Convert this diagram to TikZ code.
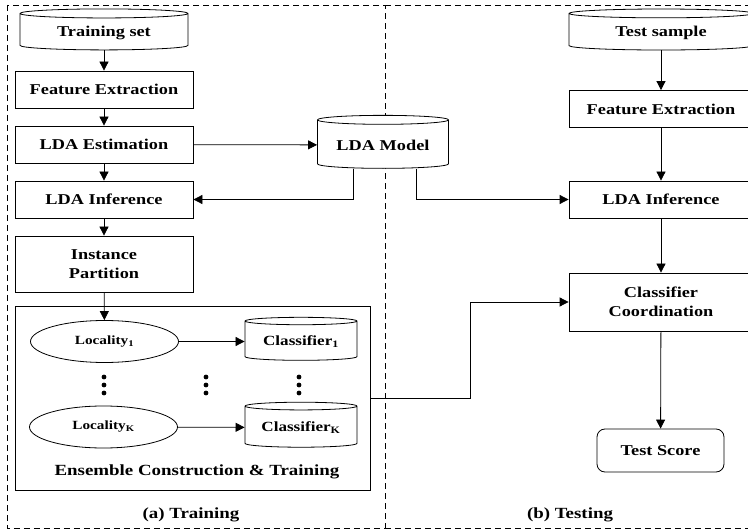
\documentclass[tikz,border=0pt]{standalone}
\usepackage{fontspec}
\setmainfont{Liberation Serif}[FakeStretch=1.22]
\usetikzlibrary{positioning,arrows.meta,shapes.geometric}
\tikzset{
    process box/.style={
        draw,thick,fill=white,
        minimum width=178pt,minimum height=37pt,
        align=center,font=\bfseries\fontsize{15}{19}\selectfont
    },
    data store/.style={
        draw,thick,fill=white,cylinder,shape border rotate=90,aspect=0.09,
        align=center,font=\bfseries\fontsize{15}{19}\selectfont
    },
    locality/.style={
        draw,thick,ellipse,
        minimum width=148pt,minimum height=42pt,
        font=\bfseries\fontsize{12.5}{15}\selectfont
    },
    caption/.style={font=\bfseries\fontsize{15.5}{19}\selectfont},
    >={Triangle[length=9pt,width=9pt]},
}
\tikzstyle{arrow} = [thick,->]
\tikzstyle{frame} = [thick,dashed,dash pattern=on 6pt off 4pt]

\begin{document}
\begin{tikzpicture}[x=1pt,y=-1pt]
		\useasboundingbox (0,0) rectangle (748,532);
		% the two dashed panels
		\draw[frame] (7,5) rectangle (385,528);
		\draw[frame] (385,5) -- (752,5);
		\draw[frame] (385,528) -- (752,528);
		\node[caption] (trainlbl) at (191,515) {(a) Training};
		\node[caption] (testlbl) at (570,515) {(b) Testing};

		% training side
		\node[data store,minimum width=168pt,minimum height=41pt] (trainset) at (104,32.5) {Training set};
		\node[process box] (featL) at (104,89.5) {Feature Extraction};
		\node[process box] (estL) at (104,144.5) {LDA Estimation};
		\node[process box] (infL) at (104,199.5) {LDA Inference};
		\node[process box,minimum height=56pt] (part) at (104,264) {Instance\\Partition};
		\node[data store,minimum width=131pt,minimum height=53pt] (model) at (383,145) {LDA Model};

		\node[draw,thick,minimum width=355pt,minimum height=184pt] (ens) at (192.5,398) {};
		\node[caption] (enslbl) at (197,472) {Ensemble Construction \& Training};
		\node[locality] (loc1) at (104.5,341.5) {Locality\textsubscript{1}};
		\node[locality] (locK) at (103.5,427) {Locality\textsubscript{K}};
		\node[data store,minimum width=112pt,minimum height=43pt,font=\bfseries\fontsize{14}{17}\selectfont] (cls1) at (301,341.5) {Classifier\textsubscript{1}};
		\node[data store,minimum width=112pt,minimum height=45pt,font=\bfseries\fontsize{14}{17}\selectfont] (clsK) at (301,427.5) {Classifier\textsubscript{K}};
		\foreach \x in {104,206,299}
		\foreach \y in {377,385,393}
		\fill (\x,\y) circle (2.4pt);

		% testing side
		\node[data store,minimum width=184pt,minimum height=41pt] (sample) at (661,32.5) {Test sample};
		\node[process box,minimum width=184pt] (featR) at (661,109) {Feature Extraction};
		\node[process box,minimum width=184pt] (infR) at (661,199.5) {LDA Inference};
		\node[process box,minimum width=184pt,minimum height=58pt] (coord) at (661,302) {Classifier\\Coordination};
		\node[process box,rounded corners=8pt,minimum width=127pt,minimum height=43pt] (score) at (660.5,450.5) {Test Score};

		% connectors
		\draw[arrow] (trainset) -- (featL);
		\draw[arrow] (featL) -- (estL);
		\draw[arrow] (estL) -- (infL);
		\draw[arrow] (infL) -- (part);
		\draw[arrow] (part) -- (loc1);
		\draw[arrow] (estL) -- (model);
		\draw[arrow] ([xshift=-30pt]model.south) |- (infL.east);
		\draw[arrow] ([xshift=33pt]model.south) |- (infR.west);
		\draw[arrow] (loc1) -- (cls1);
		\draw[arrow] (locK) -- (clsK);
		\draw[arrow] (ens.east) -- ++(100,0) |- (coord.west);
		\draw[arrow] (sample) -- (featR);
		\draw[arrow] (featR) -- (infR);
		\draw[arrow] (infR) -- (coord);
		\draw[arrow] (coord) -- (score);
	\end{tikzpicture}
\end{document}
